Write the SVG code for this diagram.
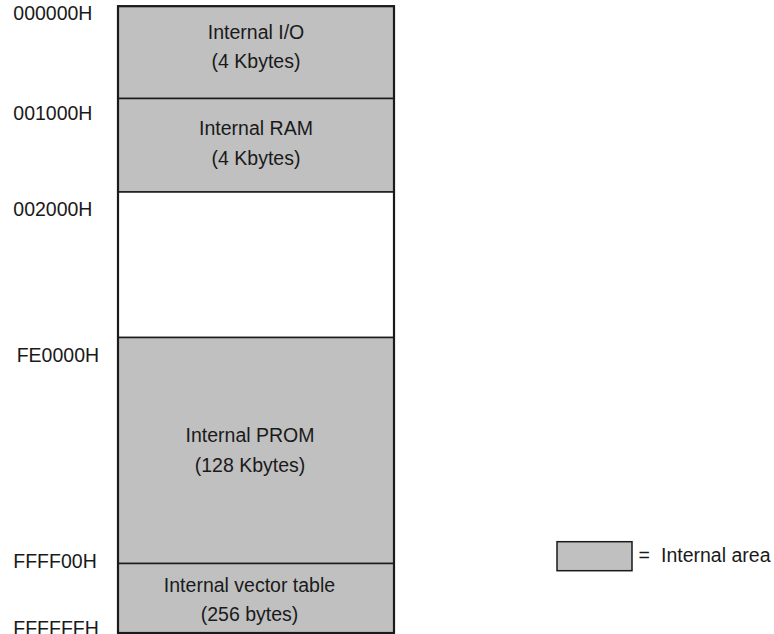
<svg xmlns="http://www.w3.org/2000/svg" width="774" height="634" viewBox="0 0 774 634">
<style>
text{font-family:"Liberation Sans",Arial,sans-serif;font-size:19.5px;fill:#1a1a1a}
.c{text-anchor:middle}
.area{fill:#c0c0c0;stroke:#1a1a1a;stroke-width:1.5}
.empty{fill:#ffffff;stroke:#1a1a1a;stroke-width:1.5}
.outer{fill:none;stroke:#1a1a1a;stroke-width:2.2}
</style>
<rect width="774" height="634" fill="#ffffff"/>
<g id="addresses">
<text x="13.3" y="19.5">000000H</text>
<text x="13.3" y="120">001000H</text>
<text x="13.3" y="215.5">002000H</text>
<text x="16.7" y="361.5">FE0000H</text>
<text x="13.3" y="567.7">FFFF00H</text>
<text x="13.3" y="635">FFFFFFH</text>
</g>
<g id="internal-io">
<rect class="area" x="118" y="6.2" width="276" height="92.3"/>
<text class="c" x="256" y="38.5">Internal I/O</text>
<text class="c" x="256" y="68.3">(4 Kbytes)</text>
</g>
<g id="internal-ram">
<rect class="area" x="118" y="98.5" width="276" height="93.5"/>
<text class="c" x="256" y="135">Internal RAM</text>
<text class="c" x="256" y="165">(4 Kbytes)</text>
</g>
<g id="unused">
<rect class="empty" x="118" y="192" width="276" height="145.5"/>
</g>
<g id="internal-prom">
<rect class="area" x="118" y="337.5" width="276" height="226"/>
<text class="c" x="250" y="441.7">Internal PROM</text>
<text class="c" x="250" y="471.7">(128 Kbytes)</text>
</g>
<g id="vector-table">
<rect class="area" x="118" y="563.5" width="276" height="69.5"/>
<text class="c" x="249.5" y="592.3">Internal vector table</text>
<text class="c" x="249.5" y="621">(256 bytes)</text>
</g>
<rect class="outer" x="118" y="6.2" width="276" height="626.8"/>
<g id="legend">
<rect class="area" x="557" y="541.7" width="75" height="29" stroke-width="2"/>
<text x="638.5" y="561.7">=</text>
<text x="661" y="561.7">Internal area</text>
</g>
<g id="connectors"></g>
</svg>
